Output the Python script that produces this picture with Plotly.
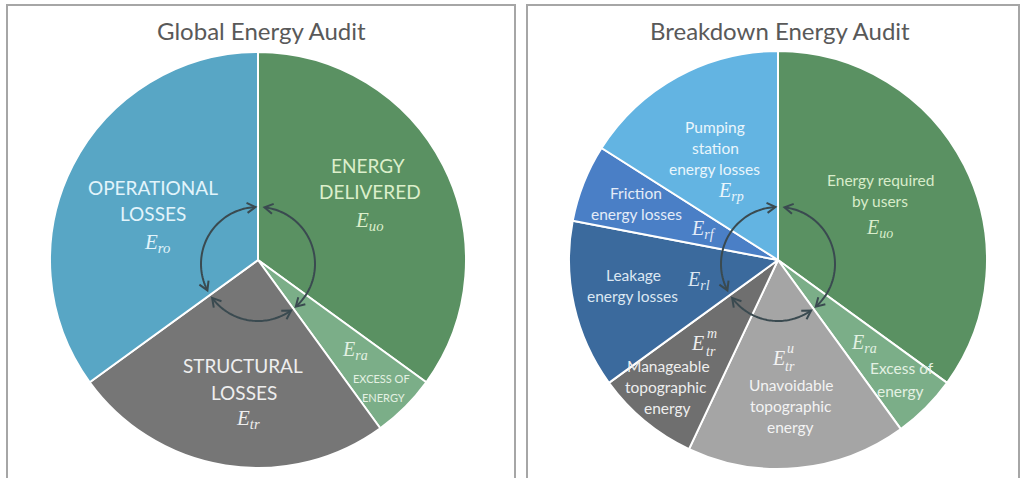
import numpy as np
import plotly.graph_objects as go

W, H = 1021, 478

# ---------------- data ----------------
titles = ["Global Energy Audit", "Breakdown Energy Audit"]

global_labels = ["Energy delivered", "Excess of energy", "Structural losses", "Operational losses"]
global_values = [35, 5, 25, 35]
global_colors = ["#5a9162", "#7bae88", "#767676", "#58a6c5"]

breakdown_labels = ["Energy required by users", "Excess of energy", "Unavoidable topographic energy",
                    "Manageable topographic energy", "Leakage energy losses",
                    "Friction energy losses", "Pumping station energy losses"]
breakdown_values = [35, 5, 17, 8, 13, 6, 16]
breakdown_colors = ["#5a9162", "#7bae88", "#a5a5a5", "#6f6f6f", "#3b6a9d", "#4a7fc6", "#63b4e2"]

# ---------------- layout helpers (pixel -> paper) ----------------
def px(x):
    return x / W

def py(y):
    return 1 - y / H

pies = [
    dict(cx=258, cy=260, r=208, labels=global_labels, values=global_values, colors=global_colors),
    dict(cx=778, cy=260, r=209, labels=breakdown_labels, values=breakdown_values, colors=breakdown_colors),
]

fig = go.Figure()
for p in pies:
    fig.add_trace(go.Pie(
        labels=p["labels"], values=p["values"], sort=False, direction="clockwise", rotation=0,
        marker=dict(colors=p["colors"], line=dict(color="white", width=2)),
        textinfo="none", hoverinfo="label+percent", showlegend=False,
        domain=dict(x=[px(p["cx"] - p["r"]), px(p["cx"] + p["r"])],
                    y=[py(p["cy"] + p["r"]), py(p["cy"] - p["r"])]),
    ))

SANS = "Lato, 'Open Sans', sans-serif"
SERIF = "'Liberation Serif', 'DejaVu Serif', serif"

annotations = []

def txt(x, y, s, size, color, font=SANS):
    annotations.append(dict(x=px(x), y=py(y), xref="paper", yref="paper", text=s, showarrow=False,
                            xanchor="center", yanchor="middle",
                            font=dict(family=font, size=size, color=color)))

def sym(x, y, sub, size, color):
    txt(x, y, "<i>E</i><sub><i>%s</i></sub>" % sub, size, color, SERIF)

# titles
txt(261, 30, titles[0], 24, "#595959")
txt(780, 30, titles[1], 24, "#595959")

# ---- left pie labels ----
LS = 19
c_del, c_op, c_st, c_ex = "#dcefcb", "#e2f4fb", "#eeeeee", "#e3f1e3"
txt(368, 165, "ENERGY", LS, c_del)
txt(370, 192, "DELIVERED", LS, c_del)
sym(369, 221, "uo", 21, c_del)
txt(153, 187, "OPERATIONAL", LS, c_op)
txt(153, 213, "LOSSES", LS, c_op)
sym(157, 243, "ro", 21, c_op)
txt(243, 365, "STRUCTURAL", LS, c_st)
txt(244, 392, "LOSSES", LS, c_st)
sym(248, 419, "tr", 21, c_st)
sym(355, 350, "ra", 20, c_ex)
txt(381, 378, "EXCESS OF", 11, c_ex)
txt(383, 397, "ENERGY", 11, c_ex)

# ---- right pie labels ----
RS = 15.5
c_u, c_p, c_f, c_l, c_m, c_v, c_e = ("#d8ecca", "#eaf6fc", "#e4ecf8", "#dce7f2",
                                     "#eeeeee", "#f3f3f3", "#e3f1e3")
txt(880, 180, "Energy required", RS, c_u)
txt(880, 201, "by users", RS, c_u)
sym(879, 228, "uo", 20, c_u)
txt(715, 127, "Pumping", RS, c_p)
txt(715, 148, "station", RS, c_p)
txt(714, 169, "energy losses", RS, c_p)
sym(731, 192, "rp", 20, c_p)
txt(636, 193, "Friction", RS, c_f)
txt(636, 214, "energy losses", RS, c_f)
sym(703, 229, "rf", 20, c_f)
txt(633, 275, "Leakage", RS, c_l)
txt(632, 296, "energy losses", RS, c_l)
sym(698, 280, "rl", 20, c_l)
txt(697, 343, "<i>E</i>", 20, c_m, SERIF)
txt(712, 333, "<i>m</i>", 14, c_m, SERIF)
txt(711, 351, "<i>tr</i>", 14, c_m, SERIF)
txt(668, 366, "Manageable", RS, c_m)
txt(666, 387, "topographic", RS, c_m)
txt(667, 408, "energy", RS, c_m)
txt(778, 358, "<i>E</i>", 20, c_v, SERIF)
txt(790, 348, "<i>u</i>", 14, c_v, SERIF)
txt(790, 366, "<i>tr</i>", 14, c_v, SERIF)
txt(791, 385, "Unavoidable", RS, c_v)
txt(791, 406, "topographic", RS, c_v)
txt(790, 427, "energy", RS, c_v)
sym(864, 343, "ra", 20, c_e)
txt(902, 368, "Excess of", RS, c_e)
txt(900, 391, "energy", RS, c_e)

# ---------------- circular arrows ----------------
shapes = []
ARC_COLOR = "#3a4a50"
arcs = [(243, 357), (7, 138), (145, 233)]

def pt(cx, cy, r, a):
    t = np.radians(a)
    return np.array([cx + r * np.sin(t), cy - r * np.cos(t)])

def path_of(points):
    return "M " + " L ".join("%.5f,%.5f" % (px(x), py(y)) for x, y in points)

for cx in (258, 778):
    cy, r = 264, 57
    for a0, a1 in arcs:
        angs = np.linspace(a0, a1, 60)
        shapes.append(dict(type="path", path=path_of([pt(cx, cy, r, a) for a in angs]),
                           xref="paper", yref="paper",
                           line=dict(color=ARC_COLOR, width=2), layer="above"))
        for tip, tail in ((a0, a0 + 6), (a1, a1 - 6)):
            T = pt(cx, cy, r, tip)
            S = pt(cx, cy, r, tail)
            d = (T - S) / np.linalg.norm(T - S)
            n = np.array([-d[1], d[0]])
            L, w = 8.0, 5.0
            head = [T - L * d + w * n, T + 0.5 * d, T - L * d - w * n]
            shapes.append(dict(type="path", path=path_of(head), xref="paper", yref="paper",
                               line=dict(color=ARC_COLOR, width=2), layer="above"))

# panel borders
for x0, x1 in ((7, 515), (527, 1019)):
    shapes.append(dict(type="path", xref="paper", yref="paper", layer="below",
                       path=path_of([(x0, 490), (x0, 5), (x1, 5), (x1, 490)]),
                       line=dict(color="#a6a6a6", width=2)))

fig.update_layout(width=W, height=H, margin=dict(l=0, r=0, t=0, b=0),
                  paper_bgcolor="white", plot_bgcolor="white",
                  annotations=annotations, shapes=shapes)

fig.write_html("out.html", config={"displayModeBar": False},
               post_script="document.body.style.margin='0px';")
